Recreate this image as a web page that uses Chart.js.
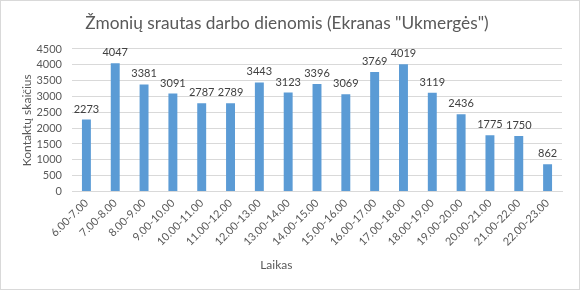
<!DOCTYPE html>
<html>
<head>
<meta charset="utf-8">
<script src="https://cdn.jsdelivr.net/npm/chart.js@4.4.1/dist/chart.umd.min.js"></script>
<style>
  html, body { margin: 0; padding: 0; background: #ffffff; }
  #wrap { width: 580px; height: 290px; position: relative; }
</style>
</head>
<body>
<div id="wrap"><canvas id="c" width="580" height="290"></canvas></div>
<script>
const titleText = 'Žmonių srautas darbo dienomis (Ekranas "Ukmergės")';
const categories = ['6.00-7.00','7.00-8.00','8.00-9.00','9.00-10.00','10.00-11.00','11.00-12.00','12.00-13.00','13.00-14.00','14.00-15.00','15.00-16.00','16.00-17.00','17.00-18.00','18.00-19.00','19.00-20.00','20.00-21.00','21.00-22.00','22.00-23.00'];
const contacts = [2273, 4047, 3381, 3091, 2787, 2789, 3443, 3123, 3396, 3069, 3769, 4019, 3119, 2436, 1775, 1750, 862];
const yTitle = 'Kontaktų skaičius';
const xTitle = 'Laikas';
const yMin = 0, yMax = 4500, yStep = 500;

const FONT = 'Lato';
const TXT = '#595959';

const frame = {
  id: 'frame',
  beforeDraw(chart) {
    const ctx = chart.ctx;
    ctx.save();
    ctx.fillStyle = '#ffffff';
    ctx.fillRect(0, 0, chart.width, chart.height);
    ctx.strokeStyle = '#D9D9D9';
    ctx.lineWidth = 1;
    ctx.strokeRect(0.5, 0.5, chart.width - 1, chart.height - 1);
    ctx.restore();
  }
};

const valueLabels = {
  id: 'valueLabels',
  afterDatasetsDraw(chart) {
    const ctx = chart.ctx;
    const meta = chart.getDatasetMeta(0);
    ctx.save();
    ctx.font = '11px ' + FONT;
    ctx.fillStyle = '#404040';
    ctx.textAlign = 'center';
    ctx.textBaseline = 'bottom';
    meta.data.forEach((bar, i) => {
      ctx.fillText(String(contacts[i]), bar.x, bar.y - 5);
    });
    ctx.restore();
  }
};

const xAxisTitle = {
  id: 'xAxisTitle',
  afterDraw(chart) {
    const ctx = chart.ctx;
    const a = chart.chartArea;
    ctx.save();
    ctx.font = '12px ' + FONT;
    ctx.fillStyle = TXT;
    ctx.textAlign = 'center';
    ctx.textBaseline = 'middle';
    ctx.fillText(xTitle, a.left + (a.right - a.left) * 0.417, 265);
    ctx.restore();
  }
};

new Chart(document.getElementById('c'), {
  type: 'bar',
  data: {
    labels: categories,
    datasets: [{
      data: contacts,
      backgroundColor: '#5B9BD5',
      borderWidth: 0,
      barPercentage: 0.31,
      categoryPercentage: 1.0
    }]
  },
  options: {
    responsive: false,
    animation: false,
    devicePixelRatio: 1,
    layout: { padding: { left: 12, right: 18, top: 0, bottom: 0 } },
    plugins: {
      legend: { display: false },
      tooltip: { enabled: false },
      title: {
        display: true,
        text: titleText,
        color: TXT,
        font: { family: FONT, size: 17.3, weight: 'normal' },
        padding: { top: 12.6, bottom: 15.6 }
      }
    },
    scales: {
      x: {
        grid: { display: false, drawTicks: false },
        border: { display: true, color: '#D9D9D9', width: 1 },
        ticks: {
          color: TXT,
          font: { family: FONT, size: 11 },
          maxRotation: 45,
          minRotation: 45,
          autoSkip: false,
          padding: 5
        },
        afterFit(s) { s.height = 98.5; }
      },
      y: {
        min: yMin,
        max: yMax,
        grid: { color: '#D9D9D9', drawTicks: false },
        border: { display: false },
        ticks: {
          stepSize: yStep,
          autoSkip: false,
          color: TXT,
          font: { family: FONT, size: 11 },
          padding: 10,
          callback: (v) => String(v)
        },
        title: {
          display: true,
          text: yTitle,
          color: TXT,
          font: { family: FONT, size: 12 },
          padding: { top: 7.8, bottom: 0 }
        },
        afterFit(s) { s.width = 60; }
      }
    }
  },
  plugins: [frame, valueLabels, xAxisTitle]
});
</script>
</body>
</html>
